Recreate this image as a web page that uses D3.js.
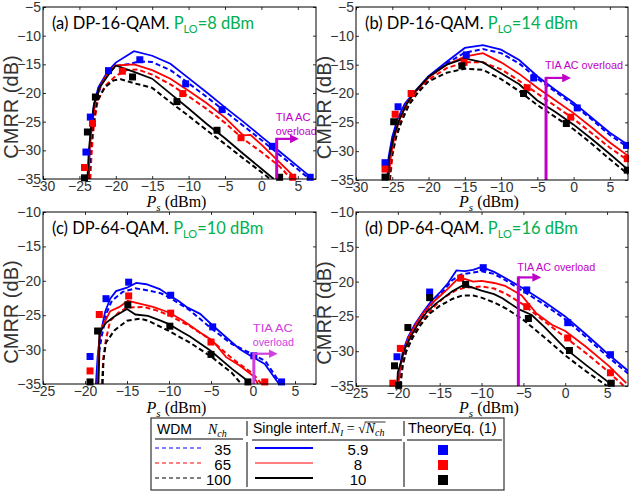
<!DOCTYPE html>
<html>
<head>
<meta charset="utf-8">
<script src="https://cdn.jsdelivr.net/npm/d3@7"></script>
<style>
    body { margin: 0; background: #fff; }
    svg { display: block; font-family: Arial, "Liberation Sans", sans-serif; }
    .tick text { fill: #333; font-size: 14px; }
    .title { font-family: Lato, "Open Sans", sans-serif; font-size: 16.5px; }
    .tia { font-family: Arial, "Liberation Sans", sans-serif; font-size: 11.5px; }
    .math { font-family: "Liberation Serif", serif; }
</style>
</head>
<body>
<svg id="chart" width="629" height="496"></svg>
<script>
// ---- tick values ----
var xTicksTop = [-30, -25, -20, -15, -10, -5, 0, 5];
var yTicksTop = [-35, -30, -25, -20, -15, -10, -5];
var xTicksBottom = [-25, -20, -15, -10, -5, 0, 5];
var yTicksBottom = [-35, -30, -25, -20, -15, -10];

// ---- (a) DP-16-QAM, PLO = 8 dBm ----
var aSolidBlue = [[-23.7,-35],[-23.6,-30],[-23.4,-26],[-23,-22],[-22.4,-19],[-21.1,-16.2],[-20,-14.7],[-17.5,-12.7],[-15,-13.5],[-12.5,-14.9],[-10,-17.4],[-7.5,-19.9],[-5,-22.5],[-2.5,-25],[0,-27.6],[2.5,-30.2],[5,-32.8],[6.9,-34.8]];
var aDashBlue = [[-23.6,-35],[-23.5,-30],[-23.2,-25.5],[-22.8,-22],[-22,-18.5],[-21,-16.5],[-20,-15.3],[-18,-14.9],[-16.8,-14.5],[-15,-14.6],[-12.5,-16],[-10,-18.3],[-7.5,-20.7],[-5,-23.2],[-2.5,-25.7],[0,-28.2],[2.5,-30.8],[5,-33.3],[6.6,-35]];
var aSolidRed = [[-23.8,-35],[-23.6,-30],[-23.3,-26],[-22.8,-21.5],[-22,-18.5],[-21,-16.3],[-20,-15.2],[-17.5,-15],[-15,-16],[-12.5,-17.5],[-10,-19.6],[-7.5,-21.8],[-5,-24.3],[-2.5,-27.4],[-1.5,-27.3],[0,-29],[2.5,-32.1],[4.8,-35]];
var aDashRed = [[-23.5,-35],[-23.3,-30],[-23,-25.5],[-22.5,-21.5],[-21.5,-18.8],[-20,-17],[-18.5,-16],[-17,-15.9],[-15,-16.8],[-12.5,-18.5],[-10,-20.6],[-7.5,-22.8],[-5,-25.2],[-2.5,-28],[0,-30.3],[2.5,-32.8],[4.1,-35]];
var aSolidBlack = [[-23.9,-35],[-23.7,-30],[-23.4,-26],[-23,-22],[-22.2,-19],[-21,-16.8],[-20,-15.2],[-17.5,-16.3],[-15,-17.5],[-12.5,-20.1],[-10,-22.7],[-7.5,-25.4],[-5,-27.9],[-2.5,-30.6],[0,-33.2],[1.7,-35]];
var aDashBlack = [[-23.7,-35],[-23.5,-30],[-23.1,-25.5],[-22.6,-21.5],[-21.5,-19],[-20.3,-17.8],[-19.3,-17.6],[-17.5,-18.3],[-15,-19.1],[-12.5,-21.6],[-10,-24],[-7.5,-26.5],[-5,-28.9],[-2.5,-31.4],[0,-33.8],[1.2,-35]];
var aSqBlue = [[-24.1,-30.3],[-23.5,-24.2],[-21,-16.1],[-16.7,-14.2],[-10.4,-18.4],[-5.4,-22.9],[1.5,-29.3],[6.7,-34.7]];
var aSqRed = [[-24.3,-33],[-23.2,-25.3],[-19.1,-16.2],[-10.8,-20.1],[-2.8,-27.8],[4.3,-34.7]];
var aSqBlack = [[-24.3,-34.8],[-23.9,-26.8],[-22.8,-20.7],[-17.7,-17.2],[-11.6,-21.5],[-6.1,-26.5],[2.5,-34.7]];

// ---- (b) DP-16-QAM, PLO = 14 dBm ----
var bSolidBlue = [[-25.7,-35],[-25.5,-31],[-25,-27.5],[-24.3,-24.5],[-23.3,-21.8],[-22,-19.8],[-20,-17],[-17.5,-14.5],[-15,-12.1],[-12.5,-11.6],[-10,-12.4],[-7.5,-14.2],[-5,-17],[-2.5,-19.4],[0,-21.6],[2.5,-24.2],[5,-26.8],[7.5,-28.9]];
var bDashBlue = [[-25.6,-35],[-25.4,-31],[-24.9,-27.5],[-24.2,-24.7],[-23.2,-22],[-22,-20],[-20,-17.2],[-17.5,-14.8],[-15,-12.9],[-12.5,-12.3],[-10,-13],[-7.5,-14.8],[-5,-17.4],[-2.5,-19.7],[0,-22],[2.5,-24.5],[5,-27.2],[7.5,-29.3]];
var bSolidRed = [[-25.5,-35],[-25.2,-31],[-24.7,-27.5],[-24,-24.5],[-23,-21.7],[-22,-19.9],[-20,-17.2],[-17.5,-15],[-15,-13.6],[-12.5,-13],[-10,-14.6],[-7.5,-16.6],[-5,-19],[-2.5,-21.2],[0,-23.4],[2.5,-25.9],[5,-28.5],[7.5,-30.8]];
var bDashRed = [[-25.3,-35],[-25,-31],[-24.5,-27.5],[-23.8,-24.6],[-22.8,-21.9],[-21.5,-19.7],[-20,-17.6],[-17.5,-15.6],[-15,-14.6],[-12.5,-14.6],[-10,-15.8],[-7.5,-17.8],[-5,-20],[-2.5,-22.2],[0,-24.4],[2.5,-26.9],[5,-29.4],[7.5,-31.6]];
var bSolidBlack = [[-25.6,-35],[-25.4,-31],[-24.8,-27.5],[-24,-24.5],[-23,-21.8],[-22,-19.9],[-20,-17.1],[-17.5,-15],[-15,-13.9],[-12.5,-14.6],[-10,-16.5],[-7.5,-18.4],[-5,-21.2],[-2.5,-23.2],[0,-25.4],[2.5,-27.9],[5,-30.5],[7.5,-33.2]];
var bDashBlack = [[-25.4,-35],[-25.1,-31],[-24.5,-27.7],[-23.7,-24.8],[-22.7,-22],[-21.5,-19.9],[-20,-17.9],[-17.5,-16.4],[-15,-15.7],[-12.5,-15.9],[-10,-17.5],[-7.5,-19.6],[-5,-22],[-2.5,-24.1],[0,-26.2],[2.5,-28.7],[5,-31.4],[7.5,-34]];
var bSqBlue = [[-26,-32],[-24.2,-22.3],[-14.8,-13.3],[-5.5,-17.3],[0.5,-22.5],[7.3,-29]];
var bSqRed = [[-26,-33.1],[-24.6,-23.6],[-22.4,-20],[-15.1,-14.6],[-6.4,-19],[-0.4,-24.1],[7.4,-31.3]];
var bSqBlack = [[-26,-34.5],[-24.8,-24.9],[-15.4,-15.2],[-6.9,-20],[-1,-25.2],[7.4,-33.3]];

// ---- (c) DP-64-QAM, PLO = 10 dBm ----
var cSolidBlue = [[-18.7,-35],[-18.5,-31],[-18.2,-28],[-17.6,-24.5],[-17,-22.6],[-16.3,-21.5],[-15,-21],[-13.9,-20.3],[-12.7,-20.5],[-11.1,-21.2],[-10,-22.1],[-8.9,-22.9],[-7.9,-23.8],[-6.3,-24.8],[-4.8,-26.5],[-3.2,-28.2],[-1.6,-29.9],[0,-31.1],[1.4,-32.1],[3.1,-35]];
var cDashBlue = [[-18.6,-35],[-18.4,-31],[-18,-28],[-17.4,-24.6],[-16.8,-22.9],[-15.5,-21.6],[-14,-21.1],[-12.5,-21.4],[-11,-21.8],[-10,-22.4],[-7.5,-24.3],[-5,-26.9],[-2.5,-29.2],[0,-30.7],[1.5,-31.7],[3.3,-35]];
var cSolidRed = [[-18.5,-35],[-18.4,-30],[-18.2,-27.3],[-17.7,-26.1],[-17,-24.4],[-15.9,-23.8],[-14.9,-22.9],[-13.5,-23.3],[-11.9,-23.8],[-10,-24.6],[-8.3,-25.8],[-6.3,-27.5],[-4.8,-28.7],[-3.2,-31.1],[-1.6,-32.3],[0,-33.8],[0.6,-35]];
var cDashRed = [[-18,-35],[-17.8,-31],[-17.5,-28.5],[-17,-25.8],[-16,-24.6],[-15,-23.9],[-13,-23.8],[-11.5,-24.3],[-10,-25],[-7.5,-26.6],[-5,-28.6],[-2.5,-31.3],[0,-33.5],[1,-35]];
var cSolidBlack = [[-18.4,-35],[-18.3,-31],[-18.3,-27.6],[-17.5,-26.1],[-16.5,-25.2],[-15,-24.1],[-14,-24.9],[-12.5,-25.1],[-11,-25.8],[-10,-26.3],[-8.5,-27.4],[-7.5,-28.1],[-5,-30.2],[-2.5,-32.8],[-1,-34.2],[-0.4,-35]];
var cDashBlack = [[-17.9,-35],[-17.8,-31.5],[-17.5,-29],[-16.5,-27.2],[-15,-25.8],[-13.5,-25.5],[-12.5,-25.8],[-10,-27.3],[-7.5,-29],[-5,-31],[-2.5,-33.4],[-1.4,-35]];
var cSqBlue = [[-19.4,-31],[-17.5,-22.6],[-14.8,-20.2],[-9.8,-22.1],[-4.8,-26.7],[0.1,-30.9],[3.4,-34.7]];
var cSqRed = [[-19.4,-33.1],[-18.3,-24.9],[-14.8,-22.2],[-9.8,-24.7],[-5,-28.9],[1.4,-34.7]];
var cSqBlack = [[-19.4,-34.7],[-18.5,-27.3],[-14.9,-23.5],[-9.9,-26.6],[-5,-30.7],[-0.6,-34.7]];

// ---- (d) DP-64-QAM, PLO = 16 dBm ----
var dSolidBlue = [[-20,-35],[-19.7,-32],[-19.4,-30],[-18.8,-28],[-18,-26.2],[-17,-24.4],[-16,-22.8],[-15,-21.6],[-14,-20.2],[-13,-18.4],[-12,-18.5],[-11,-18.3],[-10,-17.9],[-8.5,-18.6],[-7,-19.6],[-5,-21],[-2.5,-22.9],[0,-25],[2.5,-27.6],[5,-30.3],[7.5,-32.8]];
var dDashBlue = [[-19.8,-35],[-19.5,-32],[-19.1,-30],[-18.5,-28],[-17.7,-26.3],[-16.8,-24.6],[-15.8,-23],[-14.8,-21.7],[-13.5,-19.8],[-12.5,-19],[-11,-18.7],[-10,-18.5],[-8.5,-18.9],[-7,-19.9],[-5,-21.4],[-2.5,-23.3],[0,-25.4],[2.5,-28],[5,-30.7],[7.5,-33.2]];
var dSolidRed = [[-20,-35],[-19.7,-32],[-19.3,-30],[-18.7,-28],[-17.8,-26],[-17,-24.6],[-16,-23.2],[-15,-22.1],[-14,-21],[-13,-19.8],[-12,-19.6],[-11,-20],[-10,-19.9],[-8.5,-20.2],[-7.2,-20.6],[-5.2,-22],[-3.5,-24.5],[-1.6,-26.2],[0,-27.1],[2.4,-29.3],[5.2,-32.1],[7.3,-34.6]];
var dDashRed = [[-19.8,-35],[-19.5,-32],[-19,-30],[-18.3,-28],[-17.4,-26.2],[-16.5,-24.8],[-15.5,-23.4],[-14.5,-22.3],[-13,-21.2],[-12,-20.9],[-10,-20.7],[-8.5,-21],[-7,-21.8],[-5,-23.3],[-2.5,-25.7],[0,-28],[2.5,-30.3],[5,-32.8],[7,-35]];
var dSolidBlack = [[-20.1,-35],[-20,-33],[-19.6,-31.5],[-19.3,-30],[-18.5,-28],[-17.5,-25.9],[-16.5,-24.3],[-15.5,-23.2],[-14.5,-22.3],[-13.5,-21.4],[-12.3,-20.6],[-11.5,-20.7],[-10,-21.3],[-8.5,-21.8],[-7.5,-22.4],[-5.5,-24],[-4,-24.8],[-2.5,-26.5],[0,-29.6],[2.5,-32],[5,-34.3],[5.6,-35]];
var dDashBlack = [[-19.7,-35],[-19.4,-32],[-19,-30],[-18.2,-28],[-17.2,-26.1],[-16.2,-24.6],[-15,-23.5],[-13.5,-22.5],[-12.3,-22],[-11,-22],[-10,-22.3],[-8.5,-23],[-7,-23.9],[-5,-25.5],[-2.5,-28],[0,-30.6],[2.5,-32.9],[5,-35]];
var dSqBlue = [[-20.1,-30.8],[-16.2,-21.5],[-9.8,-18],[-4.6,-21.2],[0.3,-25.9],[5.4,-30.5]];
var dSqRed = [[-20.6,-34.6],[-19.7,-29.6],[-12.5,-19.5],[-4.6,-23.6],[0.3,-28.1],[5.4,-33.1]];
var dSqBlack = [[-20.4,-32.1],[-19.9,-34.9],[-18.8,-26.6],[-16.2,-22.3],[-11.9,-20.4],[-4.4,-25.3],[0.5,-29.9],[5.5,-34.6]];

// ---- TIA AC overload markers, one per panel (a..d) ----
var tiaX = [2.1, -3.8, 0.1, -5.6];
var tiaTop = [-28, -17.3, -30.6, -19.4];
var tiaArrowTo = [5, -0.5, 2.8, -3];

// ---- legend ----
var wdmChannels = ["35", "65", "100"];
var singleInterf = ["5.9", "8", "10"];

var BLUE = "#0000ff", RED = "#ff0000", BLACK = "#000000";

var svg = d3.select("#chart");
var defs = svg.append("defs");
["#c000c8", "#d040e0"].forEach(function (c, k) {
    defs.append("marker")
        .attr("id", "arrow" + k)
        .attr("viewBox", "0 0 10 10")
        .attr("refX", 2).attr("refY", 5)
        .attr("markerWidth", 4).attr("markerHeight", 4)
        .attr("orient", "auto")
        .append("path").attr("d", "M0,0L10,5L0,10Z").attr("fill", c);
});

var panels = [
    { id: "a", left: 43, right: 316, top: 7, bottom: 179, xDomain: [-30, 7.5], yDomain: [-35, -5],
      xTicks: xTicksTop, yTicks: yTicksTop, label: "(a) DP-16-QAM.", plo: "8 dBm",
      solid: [aSolidBlue, aSolidRed, aSolidBlack], dash: [aDashBlue, aDashRed, aDashBlack], sq: [aSqBlue, aSqRed, aSqBlack],
      tiaLines: ["TIA AC", "overload"], tiaOffsets: [-18, -4], tiaWidths: [35, 41], tiaColor: 0 },
    { id: "b", left: 356, right: 628, top: 7, bottom: 180, xDomain: [-30, 7.5], yDomain: [-35, -5],
      xTicks: xTicksTop, yTicks: yTicksTop, label: "(b) DP-16-QAM.", plo: "14 dBm",
      solid: [bSolidBlue, bSolidRed, bSolidBlack], dash: [bDashBlue, bDashRed, bDashBlack], sq: [bSqBlue, bSqRed, bSqBlack],
      tiaLines: ["TIA AC overload"], tiaOffsets: [-9], tiaWidths: [78], tiaColor: 0 },
    { id: "c", left: 43, right: 316, top: 212, bottom: 384, xDomain: [-25, 7.5], yDomain: [-35, -10],
      xTicks: xTicksBottom, yTicks: yTicksBottom, label: "(c) DP-64-QAM.", plo: "10 dBm",
      solid: [cSolidBlue, cSolidRed, cSolidBlack], dash: [cDashBlue, cDashRed, cDashBlack], sq: [cSqBlue, cSqRed, cSqBlack],
      tiaLines: ["TIA AC", "overload"], tiaOffsets: [-22, -8], tiaWidths: [40, 41], tiaColor: 1 },
    { id: "d", left: 356, right: 628, top: 212, bottom: 386, xDomain: [-25, 7.5], yDomain: [-35, -10],
      xTicks: xTicksBottom, yTicks: yTicksBottom, label: "(d) DP-64-QAM.", plo: "16 dBm",
      solid: [dSolidBlue, dSolidRed, dSolidBlack], dash: [dDashBlue, dDashRed, dDashBlack], sq: [dSqBlue, dSqRed, dSqBlack],
      tiaLines: ["TIA AC overload"], tiaOffsets: [-6], tiaWidths: [78], tiaColor: 0 }
];

var colors = [BLUE, RED, BLACK];
var tiaColors = ["#c000c8", "#d040e0"];

panels.forEach(function (p, i) {
    var x = d3.scaleLinear().domain(p.xDomain).range([p.left, p.right]);
    var y = d3.scaleLinear().domain(p.yDomain).range([p.bottom, p.top]);
    var g = svg.append("g");

    defs.append("clipPath").attr("id", "clip-" + p.id)
        .append("rect")
        .attr("x", p.left).attr("y", p.top)
        .attr("width", p.right - p.left).attr("height", p.bottom - p.top);

    // axes, ticks pointing inward, labels on left/bottom only
    g.append("g").attr("transform", "translate(0," + p.bottom + ")")
        .call(d3.axisBottom(x).tickValues(p.xTicks).tickSizeInner(-3).tickSizeOuter(0).tickPadding(2));
    g.append("g").attr("transform", "translate(0," + p.top + ")")
        .call(d3.axisTop(x).tickValues(p.xTicks).tickSizeInner(-3).tickSizeOuter(0).tickFormat(""));
    g.append("g").attr("transform", "translate(" + p.left + ",0)")
        .call(d3.axisLeft(y).tickValues(p.yTicks).tickSizeInner(-3).tickSizeOuter(0).tickPadding(2));
    g.append("g").attr("transform", "translate(" + p.right + ",0)")
        .call(d3.axisRight(y).tickValues(p.yTicks).tickSizeInner(-3).tickSizeOuter(0).tickFormat(""));
    g.selectAll(".domain").remove();
    g.selectAll(".tick line").attr("stroke", "#333");
    g.selectAll(".tick text").attr("font-family", "Arial, 'Liberation Sans', sans-serif");

    var plot = g.append("g").attr("clip-path", "url(#clip-" + p.id + ")");
    var line = d3.line().x(function (d) { return x(d[0]); }).y(function (d) { return y(d[1]); });

    p.dash.forEach(function (data, k) {
        plot.append("path").datum(data)
            .attr("d", line).attr("fill", "none")
            .attr("stroke", colors[k]).attr("stroke-width", 2)
            .attr("stroke-dasharray", "5,3");
    });
    p.solid.forEach(function (data, k) {
        plot.append("path").datum(data)
            .attr("d", line).attr("fill", "none")
            .attr("stroke", colors[k]).attr("stroke-width", 1.8);
    });

    // theory squares (not clipped, like MATLAB markers)
    p.sq.forEach(function (data, k) {
        g.selectAll(null).data(data).enter().append("rect")
            .attr("x", function (d) { return x(d[0]) - 3.5; })
            .attr("y", function (d) { return y(d[1]) - 3.5; })
            .attr("width", 7).attr("height", 7)
            .attr("fill", colors[k]);
    });

    // TIA AC overload marker
    var col = tiaColors[p.tiaColor];
    var tx = x(tiaX[i]), ty = y(tiaTop[i]);
    g.append("line")
        .attr("x1", tx).attr("x2", tx).attr("y1", p.bottom).attr("y2", ty - 1)
        .attr("stroke", col).attr("stroke-width", 3);
    g.append("line")
        .attr("x1", tx).attr("x2", x(tiaArrowTo[i]) - 6).attr("y1", ty).attr("y2", ty)
        .attr("stroke", col).attr("stroke-width", 2.2)
        .attr("marker-end", "url(#arrow" + p.tiaColor + ")");
    p.tiaLines.forEach(function (t, k) {
        g.append("text").attr("class", "tia")
            .attr("x", tx - 1).attr("y", ty + p.tiaOffsets[k])
            .attr("textLength", p.tiaWidths[k]).attr("lengthAdjust", "spacingAndGlyphs")
            .style("fill", col)
            .text(t);
    });

    // frame
    g.append("rect")
        .attr("x", p.left).attr("y", p.top)
        .attr("width", p.right - p.left).attr("height", p.bottom - p.top)
        .attr("fill", "none").attr("stroke", "#000").attr("stroke-width", 1);

    // panel title
    var title = g.append("text").attr("class", "title")
        .attr("x", p.left + 9).attr("y", p.top + 22);
    title.append("tspan").attr("fill", "#000").text(p.label + " ");
    title.append("tspan").attr("fill", "#00b050").text("P");
    title.append("tspan").attr("fill", "#00b050").attr("font-size", "11px").attr("dy", 4).text("LO");
    title.append("tspan").attr("fill", "#00b050").attr("dy", -4).text("=" + p.plo);

    // axis titles
    var xl = g.append("text").attr("class", "math")
        .attr("x", (p.left + p.right) / 2 - 3).attr("y", i < 2 ? 207 : 413)
        .attr("text-anchor", "middle").attr("font-size", "16px");
    xl.append("tspan").attr("font-style", "italic").text("P");
    xl.append("tspan").attr("font-style", "italic").attr("font-size", "11px").attr("dy", 4).text("s");
    xl.append("tspan").attr("dy", -4).text(" (dBm)");

    g.append("text")
        .attr("transform", "translate(" + (p.left - 25) + "," + ((p.top + p.bottom) / 2 + 14) + ") rotate(-90)")
        .attr("text-anchor", "middle").attr("font-size", "20px").attr("fill", "#333")
        .text("CMRR (dB)");
});

// ---- legend table ----
var lg = svg.append("g");
lg.append("rect").attr("x", 151).attr("y", 418).attr("width", 353).attr("height", 72)
    .attr("fill", "#fff").attr("stroke", "#333").attr("stroke-width", 1.2);

lg.append("text").attr("x", 157).attr("y", 434).attr("font-size", "14px").text("WDM");
var nch = lg.append("text").attr("class", "math").attr("x", 208).attr("y", 434).attr("font-size", "14px").attr("font-style", "italic");
nch.append("tspan").text("N");
nch.append("tspan").attr("font-size", "10px").attr("dy", 3).text("ch");

var hdr = lg.append("text").attr("x", 253).attr("y", 433).attr("font-size", "14px");
hdr.append("tspan").text("Single interf.");
hdr.append("tspan").attr("class", "math").attr("font-style", "italic").attr("font-size", "14px").text("N");
hdr.append("tspan").attr("class", "math").attr("font-style", "italic").attr("font-size", "9px").attr("dy", 3).text("I");
hdr.append("tspan").attr("class", "math").attr("font-size", "14px").attr("dy", -3).text(" = \u221A");
var nchT = hdr.append("tspan").attr("class", "math").attr("font-style", "italic").attr("font-size", "14px").text("N");
hdr.append("tspan").attr("class", "math").attr("font-style", "italic").attr("font-size", "10px").attr("dy", 3).text("ch");
var hb = hdr.node().getBBox();
var nStart = nchT.node().getStartPositionOfChar(0).x;
lg.append("line").attr("x1", nStart - 1).attr("x2", hb.x + hb.width + 1).attr("y1", 422).attr("y2", 422)
    .attr("stroke", "#000").attr("stroke-width", 0.8);

lg.append("text").attr("x", 408).attr("y", 433).attr("font-size", "14.5px").text("TheoryEq. (1)");

// header underlines and column separators
lg.append("line").attr("x1", 155).attr("x2", 243).attr("y1", 439).attr("y2", 439).attr("stroke", "#000");
lg.append("line").attr("x1", 252).attr("x2", 402).attr("y1", 440).attr("y2", 440).attr("stroke", "#000");
lg.append("line").attr("x1", 407).attr("x2", 502).attr("y1", 440).attr("y2", 440).attr("stroke", "#000");
[247, 404].forEach(function (sx) {
    lg.append("line").attr("x1", sx).attr("x2", sx).attr("y1", 421).attr("y2", 436).attr("stroke", "#000");
    lg.append("line").attr("x1", sx).attr("x2", sx).attr("y1", 442).attr("y2", 487).attr("stroke", "#000");
});

var rowY = [448, 463, 478];
wdmChannels.forEach(function (t, k) {
    lg.append("line").attr("x1", 155).attr("x2", 203).attr("y1", rowY[k]).attr("y2", rowY[k])
        .attr("stroke", colors[k]).attr("stroke-width", 1.2).attr("stroke-dasharray", "4,3");
    lg.append("text").attr("x", 231).attr("y", rowY[k] + 7).attr("text-anchor", "end")
        .attr("font-size", "15px").text(t);
    lg.append("line").attr("x1", 255).attr("x2", 313).attr("y1", rowY[k]).attr("y2", rowY[k])
        .attr("stroke", colors[k]).attr("stroke-width", k === 1 ? 1 : 2);
    lg.append("text").attr("x", 358).attr("y", rowY[k] + 7).attr("text-anchor", "middle")
        .attr("font-size", "15px").text(singleInterf[k]);
    lg.append("rect").attr("x", 438).attr("y", rowY[k] - 3).attr("width", 10).attr("height", 10)
        .attr("fill", colors[k]);
});
</script>
</body>
</html>
